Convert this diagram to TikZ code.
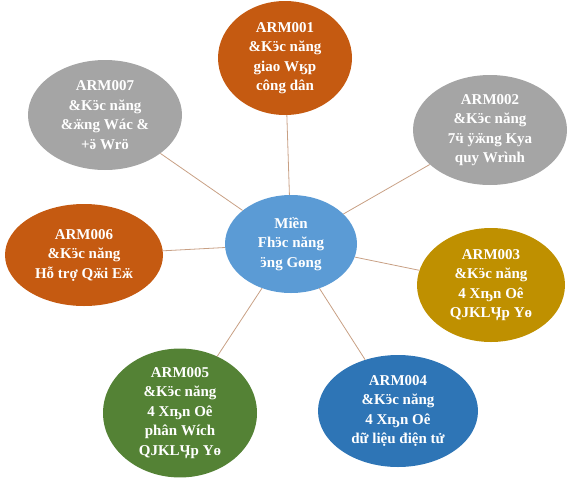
\documentclass[tikz,border=0pt]{standalone}
\usepackage{fontspec}
\setmainfont{Liberation Serif}
\usepackage{tikz}
\usetikzlibrary{shapes.geometric,positioning}
\definecolor{orangeArm}{HTML}{C55A11}
\definecolor{greyArm}{HTML}{A5A5A5}
\definecolor{blueMid}{HTML}{5B9BD5}
\definecolor{goldArm}{HTML}{BF9000}
\definecolor{greenArm}{HTML}{548235}
\definecolor{blueArm}{HTML}{2E75B6}
\definecolor{linkTan}{HTML}{C8A084}
\newcommand{\armfn}{\&Kӭc năng}

\begin{document}
\begin{tikzpicture}[x=1pt,y=-1pt,
  arm/.style={ellipse,inner sep=0pt,text=white,align=center,
    font=\bfseries\fontsize{15}{19.5}\selectfont},
  link/.style={linkTan,line width=0.8pt}]
\useasboundingbox (0,0) rectangle (576,485);
\node[arm,fill=blueMid,minimum width=132,minimum height=98] (m) at (291,244) {Miền\\Fhӭc năng\\ӭng Gөng};
\node[arm,fill=orangeArm,minimum width=134,minimum height=114] (a1) at (285,58) {ARM001\\\armfn\\giao Wӄp\\công dân};
\node[arm,fill=greyArm,minimum width=154,minimum height=110] (a2) at (490,130) {ARM002\\\armfn\\7ӵ ÿӝng Kya\\quy Wrình};
\node[arm,fill=goldArm,minimum width=148,minimum height=114] (a3) at (491,285) {ARM003\\\armfn\\4 Xҧn Oê\\QJKLӋp Yө};
\node[arm,fill=blueArm,minimum width=160,minimum height=112] (a4) at (398,411) {ARM004\\\armfn\\4 Xҧn Oê\\dữ liệu điện tử};
\node[arm,fill=greenArm,minimum width=154,minimum height=110] (a5) at (180,413) {ARM005\\\armfn\\4 Xҧn Oê\\phân Wích\\QJKLӋp Yө};
\node[arm,fill=orangeArm,minimum width=158,minimum height=102] (a6) at (84,255) {ARM006\\\armfn\\Hỗ trợ Qӝi Eӝ};
\node[arm,fill=greyArm,minimum width=154,minimum height=110] (a7) at (105,115) {ARM007\\\armfn\\\&ӝng Wác \&\\+ӛ Wrӧ};
\foreach \n in {a1,a2,a3,a4,a5,a6,a7}
  \draw[link] (m) -- (\n);
\end{tikzpicture}
\end{document}
